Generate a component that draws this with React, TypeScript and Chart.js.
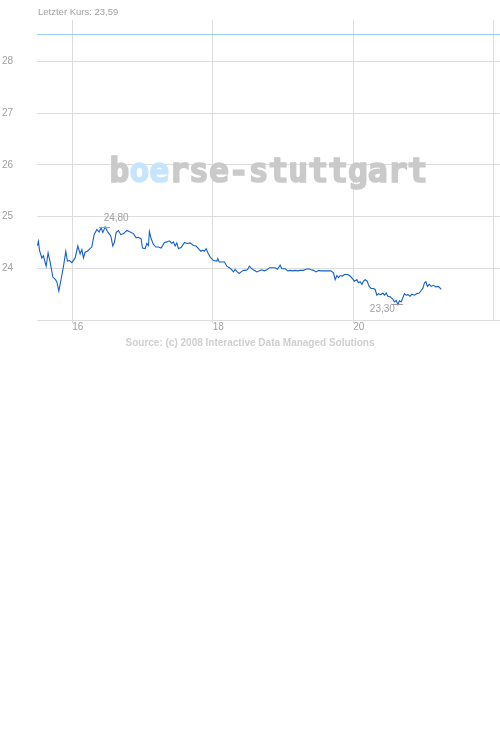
import React, { useEffect, useRef } from 'react';
import { Chart, registerables } from 'chart.js';

Chart.register(...registerables);

// Zeitachse (Tage) und Kurse
const times = [
  15.506, 15.520, 15.535, 15.569, 15.591, 15.630, 15.658, 15.687, 15.725, 15.758,
  15.782, 15.811, 15.853, 15.876, 15.910, 15.933, 15.962, 15.996, 16.043, 16.081,
  16.114, 16.138, 16.161, 16.185, 16.218, 16.246, 16.280, 16.313, 16.352, 16.384,
  16.413, 16.437, 16.470, 16.502, 16.531, 16.551, 16.579, 16.602, 16.626, 16.659,
  16.693, 16.730, 16.779, 16.826, 16.873, 16.911, 16.944,
  16.982, 17.001, 17.039, 17.063, 17.086, 17.100, 17.125, 17.157, 17.191, 17.228,
  17.267, 17.314, 17.348, 17.385, 17.419, 17.442, 17.466, 17.490, 17.513, 17.552,
  17.599, 17.633, 17.680, 17.727, 17.765, 17.798, 17.832, 17.860, 17.883, 17.907,
  17.932, 17.964, 18.011, 18.060, 18.074, 18.093, 18.140, 18.168, 18.202, 18.239,
  18.273, 18.296, 18.320, 18.344, 18.377, 18.406, 18.438,
  18.463, 18.495, 18.524, 18.558, 18.591, 18.629, 18.666, 18.700, 18.733, 18.772,
  18.809, 18.851, 18.890, 18.922, 18.961, 18.985, 19.032, 19.070, 19.103, 19.142,
  19.174, 19.207, 19.246, 19.293, 19.327, 19.364, 19.402, 19.435, 19.473, 19.506,
  19.544, 19.577, 19.626, 19.683, 19.720, 19.744, 19.768, 19.791, 19.815, 19.848,
  19.876,
  19.925, 19.957, 19.990, 20.019, 20.053, 20.075, 20.100, 20.124, 20.147, 20.171,
  20.199, 20.228, 20.256, 20.289, 20.313, 20.337, 20.360, 20.394, 20.423, 20.446,
  20.470, 20.494, 20.527, 20.559, 20.588, 20.612, 20.636, 20.659, 20.683, 20.707,
  20.730, 20.754, 20.779, 20.811, 20.835, 20.872, 20.907, 20.940, 20.968, 20.992,
  21.015, 21.035, 21.057, 21.082, 21.110, 21.143, 21.177, 21.214, 21.253,
];

const prices = [
  24.44, 24.52, 24.35, 24.20, 24.24, 24.04, 24.30, 24.12, 23.83, 23.79,
  23.74, 23.56, 23.86, 24.03, 24.33, 24.14, 24.15, 24.11, 24.20, 24.43,
  24.28, 24.36, 24.20, 24.31, 24.33, 24.37, 24.41, 24.65, 24.75, 24.70,
  24.78, 24.69, 24.80, 24.71, 24.66, 24.62, 24.43, 24.50, 24.69, 24.73,
  24.65, 24.67, 24.73, 24.70, 24.67, 24.59, 24.60,
  24.57, 24.39, 24.38, 24.48, 24.44, 24.71, 24.57, 24.46, 24.41, 24.41,
  24.39, 24.50, 24.51, 24.53, 24.48, 24.51, 24.43, 24.49, 24.38, 24.40,
  24.50, 24.48, 24.49, 24.44, 24.43, 24.38, 24.33, 24.35, 24.33, 24.38,
  24.30, 24.22, 24.15, 24.14, 24.19, 24.12, 24.12, 24.12, 24.04, 24.01,
  23.97, 23.93, 23.98, 23.94, 23.90, 23.93, 23.96,
  23.96, 23.97, 24.04, 23.99, 23.96, 23.93, 23.95, 23.97, 23.95, 23.97,
  24.01, 24.01, 24.01, 23.98, 24.06, 23.99, 23.99, 23.95, 23.96, 23.95,
  23.96, 23.95, 23.96, 23.96, 23.98, 23.99, 23.97, 23.96, 23.93, 23.96,
  23.95, 23.95, 23.95, 23.95, 23.91, 23.78, 23.86, 23.82, 23.86, 23.85,
  23.88,
  23.88, 23.85, 23.80, 23.75, 23.78, 23.72, 23.74, 23.69, 23.75, 23.78,
  23.75, 23.65, 23.61, 23.61, 23.59, 23.48, 23.51, 23.49, 23.52, 23.48,
  23.52, 23.46, 23.45, 23.41, 23.35, 23.38, 23.30, 23.37, 23.35, 23.43,
  23.51, 23.48, 23.49, 23.46, 23.50, 23.48, 23.51, 23.52, 23.57, 23.61,
  23.72, 23.74, 23.65, 23.69, 23.65, 23.67, 23.64, 23.65, 23.59,
];

const refLevel = 28.52;
const xRange = [15.5, 22.09];
const yRange = [23, 28.8];
const xTicks = [16, 18, 20, 22];
const xTickLabels = ['16', '18', '20', ''];
const yTicks = [24, 25, 26, 27, 28];

const FONT = '"Liberation Sans", Arial, sans-serif';
const fmt = (v: number) => v.toFixed(2).replace('.', ',');

const overlayPlugin = {
  id: 'overlay',
  beforeDatasetsDraw(chart: any) {
    const { ctx, chartArea } = chart;
    // Wasserzeichen
    ctx.save();
    ctx.font = 'bold 33px "DejaVu Sans Mono", monospace';
    ctx.textBaseline = 'alphabetic';
    ctx.textAlign = 'left';
    ctx.lineWidth = 1.6;
    ctx.lineJoin = 'miter';
    const parts: [string, string][] = [
      ['b', '#cacaca'],
      ['oe', '#c5e5fd'],
      ['rse-stuttgart', '#cacaca'],
    ];
    const total = parts.reduce((s, p) => s + ctx.measureText(p[0]).width, 0);
    let x = (chartArea.left + chartArea.right) / 2 - total / 2;
    const y = (chartArea.top + chartArea.bottom) / 2 + 12;
    parts.forEach(([t, c]) => {
      ctx.fillStyle = c;
      ctx.strokeStyle = c;
      ctx.fillText(t, x, y);
      ctx.strokeText(t, x, y);
      x += ctx.measureText(t).width;
    });
    ctx.restore();
  },
  afterDatasetsDraw(chart: any) {
    const { ctx, scales } = chart;
    const hi = prices.indexOf(Math.max(...prices));
    const lo = prices.indexOf(Math.min(...prices));
    ctx.save();
    ctx.strokeStyle = '#999999';
    ctx.lineWidth = 1;
    ctx.fillStyle = '#a0a0a0';
    ctx.font = `10px ${FONT}`;
    ctx.textBaseline = 'alphabetic';
    [
      [hi, true],
      [lo, false],
    ].forEach(([idx, above]: any) => {
      const px = scales.x.getPixelForValue(times[idx]);
      const py = scales.y.getPixelForValue(prices[idx]);
      const ly = Math.round(py) + 0.5;
      ctx.beginPath();
      ctx.moveTo(px - 6, ly);
      ctx.lineTo(px + 5, ly);
      ctx.stroke();
      if (above) {
        ctx.textAlign = 'left';
        ctx.fillText(fmt(prices[idx]), px - 1.5, py - 6);
      } else {
        ctx.textAlign = 'right';
        ctx.fillText(fmt(prices[idx]), px - 3, py + 8);
      }
    });
    ctx.restore();
  },
  afterDraw(chart: any) {
    const { ctx, chartArea, width } = chart;
    ctx.save();
    ctx.textBaseline = 'middle';
    ctx.fillStyle = '#a0a0a0';
    ctx.font = `9.5px ${FONT}`;
    ctx.textAlign = 'left';
    ctx.fillText('Letzter Kurs: ' + fmt(prices[prices.length - 1]), chartArea.left + 1, 12.5);
    ctx.fillStyle = '#cfcfcf';
    ctx.font = `bold 10px ${FONT}`;
    ctx.textAlign = 'center';
    ctx.fillText('Source: (c) 2008 Interactive Data Managed Solutions', width / 2, 343);
    ctx.restore();
  },
};

const PriceChart: React.FC = () => {
  const chartRef = useRef<HTMLCanvasElement>(null);
  const chartInstance = useRef<Chart | null>(null);

  useEffect(() => {
    if (!chartRef.current) return;
    if (chartInstance.current) chartInstance.current.destroy();
    const ctx = chartRef.current.getContext('2d');
    if (!ctx) return;

    chartInstance.current = new Chart(ctx, {
      type: 'line',
      data: {
        datasets: [
          {
            data: times.map((t, i) => ({ x: t, y: prices[i] })),
            borderColor: '#1560c8',
            borderWidth: 1.1,
            pointRadius: 0,
            tension: 0,
            fill: false,
          },
          {
            data: [
              { x: xRange[0], y: refLevel },
              { x: xRange[1], y: refLevel },
            ],
            borderColor: '#99ccff',
            borderWidth: 1,
            pointRadius: 0,
            fill: false,
          },
        ],
      },
      options: {
        responsive: false,
        animation: false,
        events: [],
        layout: { padding: { left: 2, top: 20, right: 0, bottom: 0 } },
        plugins: {
          legend: { display: false },
          tooltip: { enabled: false },
          title: { display: false },
        },
        scales: {
          x: {
            type: 'linear',
            min: xRange[0],
            max: xRange[1],
            afterBuildTicks: (scale: any) => {
              scale.ticks = xTicks.map(v => ({ value: v }));
            },
            afterFit: (scale: any) => {
              scale.height = 30;
            },
            ticks: {
              autoSkip: false,
              maxRotation: 0,
              align: 'start',
              padding: -2,
              color: '#a0a0a0',
              font: { family: FONT, size: 10 },
              callback: (value: any) => xTickLabels[xTicks.indexOf(Number(value))] ?? '',
            },
            grid: {
              color: '#dddddd',
              tickLength: 3,
              tickColor: (c: any) => (c.tick && c.tick.value === 22 ? 'rgba(0,0,0,0)' : '#dddddd'),
            },
            border: { display: true, color: '#dddddd', width: 1 },
          },
          y: {
            type: 'linear',
            min: yRange[0],
            max: yRange[1],
            afterBuildTicks: (scale: any) => {
              scale.ticks = yTicks.map(v => ({ value: v }));
            },
            afterFit: (scale: any) => {
              scale.width = 35;
            },
            ticks: {
              crossAlign: 'far',
              padding: 0,
              color: '#a0a0a0',
              font: { family: FONT, size: 10 },
              callback: (value: any) => String(value),
            },
            grid: { color: '#dddddd', drawTicks: false },
            border: { display: false },
          },
        },
      } as any,
      plugins: [overlayPlugin],
    });

    return () => {
      if (chartInstance.current) {
        chartInstance.current.destroy();
        chartInstance.current = null;
      }
    };
  }, []);

  return (
    <div style={{ position: 'absolute', left: 0, top: 0, width: 500, height: 350, background: '#fff' }}>
      <canvas ref={chartRef} width={500} height={350}></canvas>
    </div>
  );
};

export default function App() {
  return <PriceChart />;
}
